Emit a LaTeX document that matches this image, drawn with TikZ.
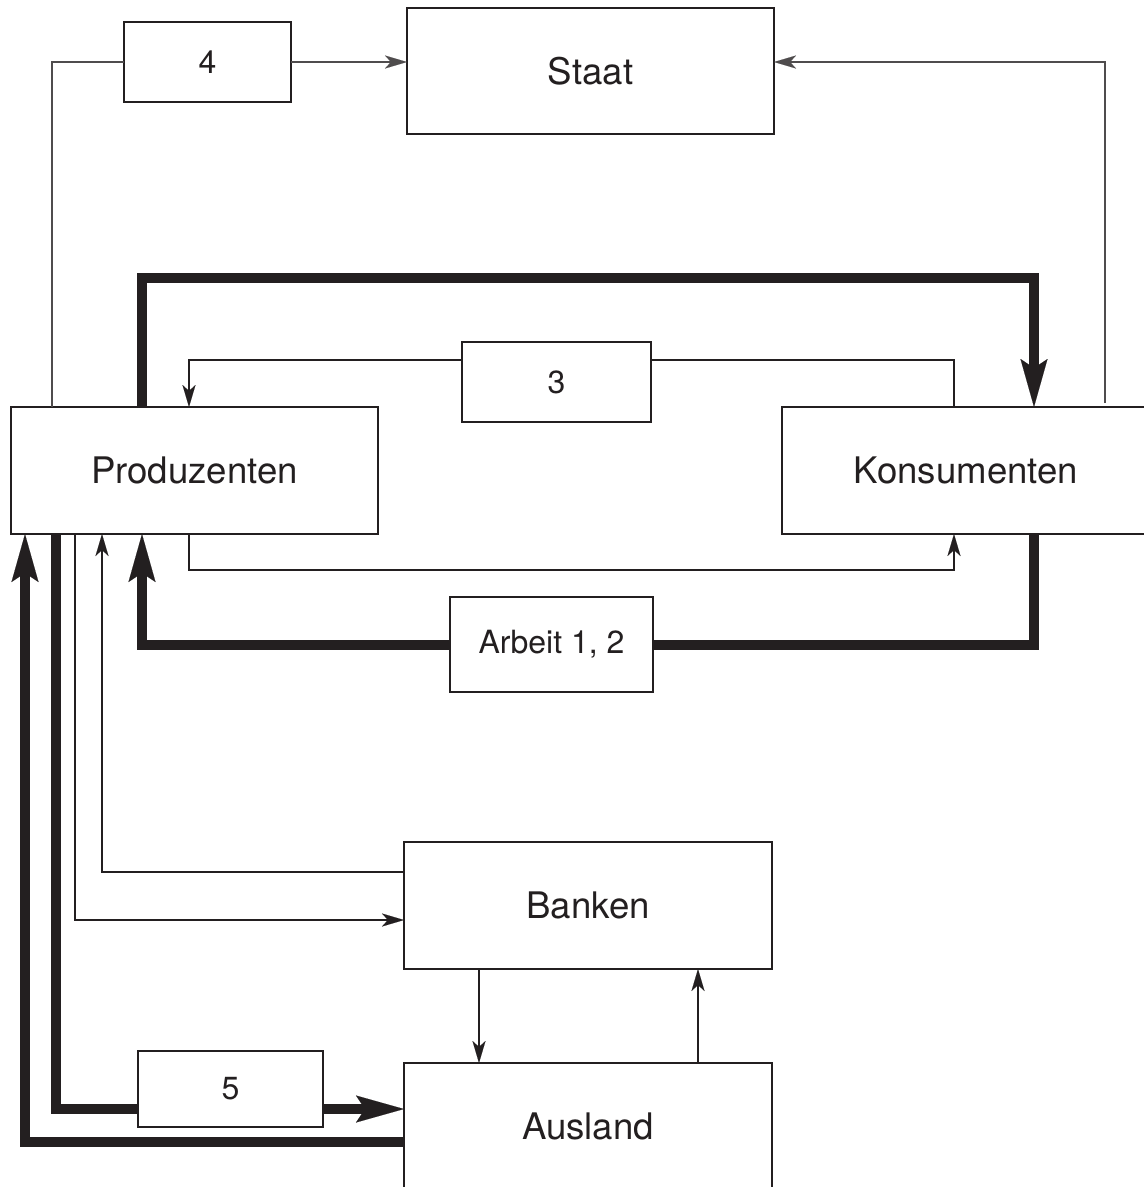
\documentclass[tikz,border=0pt]{standalone}
\usepackage{fontspec}
\setmainfont{TeX Gyre Heros}
\usetikzlibrary{arrows.meta}
\definecolor{ink}{HTML}{231F20}
\newcommand{\boxfont}{\fontsize{36.6}{40}\selectfont}
\newcommand{\tagfont}{\fontsize{32}{36}\selectfont}
\begin{document}
\begin{tikzpicture}[x=1pt,y=-1pt,
  box/.style={draw=ink, line width=2.4pt, outer sep=0pt, inner sep=0pt, text=ink, font=\boxfont},
  lbl/.style={box, font=\tagfont},
  conn/.style={draw=ink, line width=1.9pt},
  faint/.style={draw=ink!80, line width=1.3pt},
  heavy/.style={draw=ink, line width=10pt},
  arr/.style={-{Stealth[length=22pt,width=13pt,inset=6pt,line width=0.1pt]}},
  bigarr/.style={-{Stealth[length=48pt,width=27pt,inset=9pt,line width=0.1pt]}},
]
\clip (0,0) rectangle (1144,1187);
\fill[white] (0,0) rectangle (1144,1187);

% boxes
\node[box, minimum width=367pt, minimum height=126pt] (staat) at (590.5,71) {Staat};
\node[lbl, minimum width=167pt, minimum height=80pt] (b4) at (207.5,62) {4};
\node[box, minimum width=367pt, minimum height=127pt] (prod) at (194.5,470.5) {Produzenten};
\node[box, minimum width=368pt, minimum height=127pt] (kons) at (966,470.5) {Konsumenten};
\node[lbl, minimum width=189pt, minimum height=80pt] (b3) at (556.5,382) {3};
\node[lbl, minimum width=203pt, minimum height=95pt] (arb) at (551.5,644.5) {Arbeit 1, 2};
\node[box, minimum width=368pt, minimum height=127pt] (bank) at (588,905.5) {Banken};
\node[lbl, minimum width=185pt, minimum height=76pt] (b5) at (230.5,1089) {5};
\node[box, minimum width=368pt, minimum height=127pt] (aus) at (588,1126.5) {Ausland};

% routing coordinates
\coordinate (c1) at (1034,278);
\coordinate (c3r) at (954,360);
\coordinate (c3l) at (189,360);
\coordinate (c5a) at (189,570);
\coordinate (c5b) at (954,570);
\coordinate (c6r) at (1034,645);
\coordinate (c6l) at (142,645);
\coordinate (c7) at (102,872);
\coordinate (c8) at (75,920);
\coordinate (c9) at (479,1000);
\coordinate (c10) at (698,1000);
\coordinate (c11) at (56,1109);
\coordinate (c12) at (25,1142);

% Staat connections
\draw[faint] ([xshift=41pt]prod.north west) |- (b4.west);
\draw[faint,arr] (b4.east) -- (b4.east -| staat.west);
\draw[faint,arr] ([xshift=323pt,yshift=4pt]kons.north west) |- (b4.east -| staat.east);

% Produzenten -> Konsumenten (thick top)
\draw[heavy,bigarr] ([xshift=131pt]prod.north west) |- (c1) -- (c1 |- kons.north);

% Konsumenten -> 3 -> Produzenten
\draw[conn] (c3r |- kons.north) -- (c3r) -- (c3r -| b3.east);
\draw[conn,arr] (c3l -| b3.west) -- (c3l) -- (c3l |- prod.north);

% Produzenten -> Konsumenten (thin bottom)
\draw[conn,arr] (c5a |- prod.south) -- (c5a) -- (c5b) -- (c5b |- kons.south);

% Arbeit
\draw[heavy] (c6r |- kons.south) -- (c6r) -- (c6r -| arb.east);
\draw[heavy,bigarr] (c6l -| arb.west) -- (c6l) -- (c6l |- prod.south);

% Banken
\draw[conn,arr] (c7 -| bank.west) -- (c7) -- (c7 |- prod.south);
\draw[conn,arr] (c8 |- prod.south) -- (c8) -- (c8 -| bank.west);
\draw[conn,arr] (c9 |- bank.south) -- (c9 |- aus.north);
\draw[conn,arr] (c10 |- aus.north) -- (c10 |- bank.south);

% Ausland
\draw[heavy] (c11 |- prod.south) -- (c11) -- (c11 -| b5.west);
\draw[heavy,bigarr] (c11 -| b5.east) -- (c11 -| aus.west);
\draw[heavy,bigarr] (c12 -| aus.west) -- (c12) -- (c12 |- prod.south);
\end{tikzpicture}
\end{document}
